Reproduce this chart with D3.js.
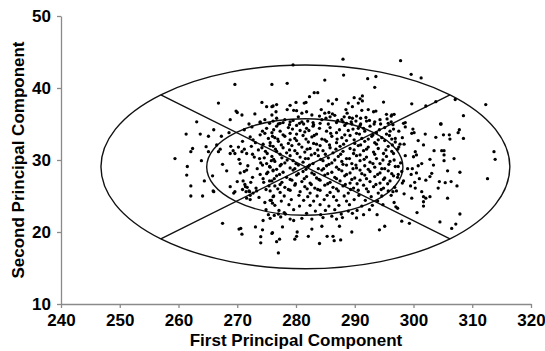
<!DOCTYPE html>
<html>
<head>
<meta charset="utf-8">
<script src="https://cdn.jsdelivr.net/npm/d3@7"></script>
<style>
  body { margin: 0; background: #fff; }
  text { font-family: Arial, "Liberation Sans", sans-serif; }
</style>
</head>
<body>
<div id="chart"></div>
<script>
// axis ticks
const xTicks = [240, 250, 260, 270, 280, 290, 300, 310, 320];
const yTicks = [10, 20, 30, 40, 50];

// ellipses: [centre pc1, centre pc2, half width, half height]
const outerEllipse = [281.6, 29.05, 34.8, 14.15];
const innerEllipse = [281.5, 29.03, 16.7, 6.7];

// principal component scores [pc1, pc2]
const outerScores = [
  [269.6,40.5],[275.9,40.5],[266.8,37.9],[274.2,38.0],[275.0,37.4],[275.9,37.4],[269.8,36.8],[270.0,36.6],
  [270.8,36.25],[268.8,35.6],[273.0,36.4],[263.1,35.3],[275.9,36.25],[273.9,35.3],
  [288.0,44.0],[279.5,43.2],[288.1,41.8],[278.5,40.65],[284.9,41.1],[292.2,41.3],[293.6,41.6],[293.4,40.1],
  [283.1,39.35],[283.7,39.35],[282.3,38.8],[294.9,38.05],[291.3,38.9],[290.9,38.5],[289.9,38.65],[285.5,38.2],
  [286.2,37.8],[286.9,38.4],[281.7,38.0],[281.4,37.9],[280.0,38.0],[279.0,37.6],[279.6,36.9],[278.5,37.0],
  [280.1,36.85],[276.7,37.7],[276.1,37.5],[276.6,36.7],[288.9,37.9],[289.6,37.4],[290.6,37.9],[291.3,38.2],
  [291.2,36.9],[288.5,37.0],[288.7,36.5],[288.2,36.0],[292.3,37.0],[293.2,36.7],[293.6,36.8],
  [284.3,37.0],[284.9,36.5],[285.6,36.6],[286.2,36.4],[285.8,36.0],[286.6,36.2],[285.1,35.8],[284.0,36.1],
  [281.0,36.5],[281.8,36.7],[282.7,36.25],[280.4,36.0],[290.3,36.1],[291.0,35.8],[291.9,35.9],[289.6,35.8],
  [290.2,35.4],[295.4,36.35],[296.3,36.25],[276.7,35.8],[278.1,35.6],[277.3,35.1],[279.0,35.3],
  [282.0,35.4],[282.9,35.2],[281.3,35.0],[287.1,35.5],[288.0,35.3],[289.4,35.3],[289.1,35.9],[291.0,35.0],
  [292.5,35.5],[293.4,35.3],[294.4,35.0],[295.5,35.7],[296.2,35.3],
  [297.8,43.8],[299.6,41.9],[301.3,41.4],[307.1,38.4],[312.3,37.7],[299.7,37.8],[302.1,37.5],[303.8,38.1],
  [296.2,36.1],[296.7,36.35],[298.6,35.2],[304.7,35.0],[308.5,36.15],
  [261.3,33.6],[263.7,33.6],[265.1,33.3],[266.0,34.2],[267.3,33.3],[268.6,33.8],[271.2,34.2],[273.9,35.2],
  [275.0,34.4],[275.5,35.1],[273.9,33.5],[274.7,33.7],[275.3,33.0],[276.0,33.3],[272.2,33.2],[272.7,32.8],
  [262.4,31.6],[262.1,31.15],[264.7,31.85],[265.1,31.15],[266.5,32.1],[267.1,31.5],[266.8,31.15],[268.9,31.9],
  [269.3,31.3],[270.2,31.8],[270.8,31.15],[271.2,31.5],[271.6,30.9],[268.8,30.9],[269.6,30.9],[270.3,30.1],
  [270.5,29.5],[272.4,31.9],[273.6,31.4],[274.4,32.2],[272.6,30.8],[273.8,30.2],[274.2,31.7],[275.1,30.9],
  [275.6,32.0],[274.6,30.3],[275.8,29.9],[275.0,29.5],[274.3,29.3],[275.5,29.1],
  [259.4,30.2],[263.9,29.9],[261.5,29.1],[267.5,29.4],[268.2,28.5],[265.8,27.8],[261.4,27.9],[264.4,27.1],
  [262.1,26.4],[265.9,25.7],[270.0,27.0],[270.5,28.2],[271.2,28.4],[271.6,28.6],[271.0,27.1],[271.3,26.6],
  [271.7,26.2],[270.9,25.9],[272.0,25.7],[271.5,25.6],[272.3,26.9],[273.9,28.0],[274.4,27.4],[275.2,28.3],
  [275.5,27.1],[276.1,28.6],[275.4,26.4],[274.9,25.9],[268.8,26.3],[269.6,25.6],[269.4,25.4],
  [272.5,34.6],[274.3,34.0],[273.1,32.4],[274.8,31.2],[272.9,30.4],[274.0,29.6],[273.4,28.8],[275.0,28.1],
  [272.6,27.6],[274.5,26.9],[273.2,26.1],[271.8,29.2],[270.9,32.6],[272.0,35.0],[274.7,35.6],[271.4,26.3],
  [296.5,34.9],[298.3,35.1],[298.6,34.6],[304.6,35.0],[299.9,34.3],[300.1,33.8],[299.7,33.7],[302.0,33.6],
  [303.8,33.15],[305.1,33.5],[306.1,33.5],[306.2,32.9],[307.8,34.2],[307.6,33.8],[308.5,33.0],[300.8,32.7],
  [301.7,32.1],[297.7,32.2],[298.4,32.2],[303.5,31.3],[304.8,31.3],[305.2,31.3],[305.2,30.7],[305.2,29.9],
  [306.9,30.2],[300.3,31.15],[300.5,30.7],[300.0,30.45],[302.8,30.1],[303.4,29.3],[313.7,31.15],[313.9,30.1],
  [300.8,29.2],[301.4,29.5],[305.8,28.5],[307.9,28.3],[312.6,27.4],[302.8,27.7],[303.1,28.15],[302.1,27.2],
  [304.4,27.0],[305.4,26.85],[306.4,27.0],[307.4,26.4],[304.2,26.1],
  [299.8,28.8],[300.5,28.2],[299.6,28.0],[301.0,27.4],[300.2,26.9],[299.5,26.4],[300.3,26.1],[301.4,25.6],
  [296.9,33.0],[297.5,31.8],[296.7,30.0],[297.4,29.1],[298.0,28.4],[297.3,27.6],[298.1,26.8],[296.8,26.2],
  [297.5,34.0],[298.1,33.1],[297.3,31.5],[298.6,30.6],[297.8,29.6],[299.0,28.8],[297.4,28.0],[298.3,27.1],
  [262.1,25.0],[264.1,25.0],[266.0,25.6],[267.5,21.2],[270.3,20.4],[270.6,20.5],[270.8,19.7],[273.1,20.7],
  [274.0,19.35],[274.0,18.5],[274.3,20.3],[275.9,19.8],[274.4,21.6],[275.6,21.9],[275.3,22.4],[274.9,23.1],
  [274.7,24.1],[276.0,24.0],[275.6,24.4],[276.1,24.9],[272.1,25.6],[272.2,25.1],[272.7,25.4],[273.3,25.7],
  [271.6,24.7],[272.2,24.5],[273.7,24.8],
  [276.0,19.9],[277.7,20.7],[276.7,18.65],[277.2,19.0],[277.0,17.1],[279.8,19.0],[280.1,19.4],[280.2,20.0],
  [282.1,19.4],[282.7,20.4],[284.0,18.4],[284.4,20.8],[285.3,19.4],[286.3,19.4],[286.5,18.8],[287.6,18.9],
  [287.4,20.8],[289.5,20.0],[294.2,20.3],[295.1,20.8],
  [279.0,21.8],[279.6,21.6],[281.0,21.9],[282.7,21.8],[284.6,22.0],[286.1,22.2],[286.9,21.8],[287.9,22.0],
  [290.3,21.95],[291.5,22.4],[276.3,22.3],[277.4,22.1],[278.0,22.7],[277.0,22.5],
  [298.4,25.3],[299.7,24.7],[301.7,24.9],[302.1,24.7],[301.7,24.2],[302.8,24.9],[301.7,23.6],
  [305.8,24.7],[296.7,24.1],[297.0,23.5],[297.3,23.3],[300.6,22.7],[307.9,22.5],[298.0,21.5],[299.3,21.2],
  [304.5,21.4],[306.5,20.5],[307.2,21.1],[296.5,25.6],[297.1,25.7]
];

const coreScores = [
  [276.1,35.4],[277.8,35.2],[279.5,35.5],[281.0,35.3],[284.1,35.1],[284.4,35.6],[286.9,35.2],[287.8,35.6],
  [289.5,35.0],[292.0,35.4],[294.3,35.6],[295.7,35.1],
  [276.7,34.7],[278.7,34.5],[280.1,34.8],[281.8,34.4],[282.9,34.7],[285.8,34.5],[288.3,34.8],[290.6,34.4],
  [292.6,34.7],[295.1,34.5],[296.6,34.3],
  [275.9,33.8],[277.3,34.0],[279.0,33.7],[280.7,34.1],[281.5,33.9],[283.5,33.6],[285.2,34.0],[286.9,33.8],
  [288.9,34.1],[290.3,33.7],[291.7,34.0],[293.7,33.8],[295.4,33.6],
  [276.4,33.1],[278.1,33.3],[279.8,33.0],[281.2,33.4],[282.7,33.2],[284.4,32.9],[286.1,33.3],[287.8,33.1],
  [289.2,33.4],[291.2,33.0],[292.9,33.3],[294.6,33.1],[296.3,32.9],
  [275.6,32.4],[277.0,32.6],[278.7,32.3],[280.1,32.7],[282.1,32.5],[283.5,32.2],[285.2,32.6],[286.9,32.4],
  [288.6,32.7],[290.0,32.3],[291.7,32.6],[293.4,32.4],[295.1,32.7],[296.9,32.5],
  [276.1,31.9],[277.8,31.7],[279.3,32.0],[281.0,31.8],[282.4,31.6],[284.1,32.0],[285.8,31.7],[287.5,31.9],
  [289.2,31.6],[290.6,32.0],[292.3,31.8],[294.0,31.6],[295.7,31.9],
  [276.7,31.2],[278.4,31.0],[279.8,31.3],[281.5,31.1],[283.2,30.9],[284.6,31.3],[286.3,31.0],[288.0,31.2],
  [289.8,30.9],[291.5,31.3],[293.2,31.1],[294.9,30.9],[296.3,31.2],
  [275.9,30.5],[277.6,30.3],[279.0,30.6],[280.7,30.4],[282.1,30.2],[283.8,30.6],[285.5,30.3],[287.2,30.5],
  [288.6,30.2],[290.3,30.6],[292.0,30.4],[293.7,30.2],[295.4,30.5],
  [276.4,29.8],[278.1,29.6],[279.5,29.9],[281.2,29.7],[282.9,29.5],[284.6,29.9],[286.1,29.6],[287.8,29.8],
  [289.5,29.5],[290.9,29.9],[292.6,29.7],[294.3,29.5],[296.0,29.8],
  [275.6,29.0],[277.3,29.2],[279.0,28.9],[280.4,29.3],[282.1,29.1],[283.8,28.8],[285.2,29.2],[286.9,29.0],
  [288.6,29.3],[290.3,28.9],[291.7,29.2],[293.4,29.0],[295.1,28.8],[296.9,29.1],
  [276.1,28.5],[277.8,28.3],[279.5,28.6],[281.2,28.4],[282.7,28.2],[284.4,28.6],[286.1,28.3],[287.8,28.5],
  [289.2,28.2],[290.9,28.6],[292.6,28.4],[294.3,28.2],[295.7,28.5],
  [276.7,27.8],[278.4,27.6],[280.1,27.9],[281.8,27.7],[283.5,27.5],[284.9,27.9],[286.6,27.6],[288.3,27.8],
  [290.0,27.5],[291.7,27.9],[293.4,27.7],[295.1,27.5],[296.6,27.8],
  [275.9,27.1],[277.6,26.9],[279.3,27.2],[281.0,27.0],[282.4,26.8],[284.1,27.2],[285.8,26.9],[287.5,27.1],
  [289.2,26.8],[290.9,27.2],[292.6,27.0],[294.3,26.8],[296.0,27.1],
  [276.4,26.4],[278.1,26.2],[279.8,26.5],[281.5,26.3],[283.2,26.1],[284.9,26.5],[286.3,26.2],[288.0,26.4],
  [289.8,26.1],[291.5,26.5],[293.2,26.3],[294.9,26.1],
  [275.6,25.7],[277.3,25.5],[279.0,25.8],[280.7,25.6],[282.4,25.4],[284.1,25.8],[285.8,25.5],[287.2,25.7],
  [288.9,25.4],[290.6,25.8],[292.3,25.6],[294.0,25.4],[295.7,25.7],
  [277.0,35.0],[278.9,34.9],[280.6,35.1],[283.0,34.9],[285.5,35.0],[288.6,35.1],[290.9,34.8],[293.3,35.0],
  [276.2,34.2],[279.4,34.3],[282.2,34.1],[284.0,34.4],[287.4,34.2],[289.7,34.3],[291.5,34.4],[294.2,34.2],[296.0,34.0],
  [277.8,33.5],[280.1,33.6],[283.1,33.4],[285.9,33.7],[288.3,33.5],[290.8,33.6],[293.1,33.5],[295.9,33.4],
  [276.9,32.9],[279.0,32.8],[281.7,32.9],[284.9,32.8],[287.0,32.9],[289.9,32.8],[292.3,32.9],[294.0,32.8],
  [277.5,32.1],[280.5,32.2],[283.0,32.3],[285.7,32.1],[288.1,32.2],[291.0,32.1],[293.7,32.2],[296.4,32.1],
  [276.5,31.5],[278.9,31.4],[281.9,31.5],[283.7,31.4],[286.8,31.5],[289.9,31.4],[292.0,31.5],[295.3,31.4],
  [277.3,30.8],[280.2,30.9],[282.6,30.7],[285.0,30.8],[287.6,30.8],[290.9,30.7],[293.4,30.8],[296.6,30.9],
  [276.2,30.1],[278.5,30.0],[281.6,30.2],[284.2,30.1],[286.6,30.0],[289.1,30.2],[291.6,30.1],[294.8,30.0],
  [277.5,29.4],[280.0,29.5],[282.3,29.3],[285.6,29.4],[288.0,29.4],[290.2,29.3],[293.1,29.5],[295.8,29.4],
  [276.7,28.7],[279.8,28.8],[281.7,28.7],[284.7,28.8],[287.3,28.7],[289.7,28.8],[292.3,28.7],[294.6,28.8],
  [277.2,28.0],[280.4,28.1],[283.1,28.0],[285.4,28.1],[288.6,28.0],[291.2,28.1],[293.9,28.0],[296.3,28.1],
  [276.3,27.4],[279.0,27.3],[281.4,27.4],[283.9,27.3],[286.9,27.4],[289.5,27.3],[292.0,27.4],[294.9,27.3],
  [277.3,26.6],[279.9,26.7],[282.6,26.6],[285.4,26.7],[288.4,26.6],[290.4,26.7],[293.6,26.6],[295.6,26.7],
  [276.9,26.0],[278.7,25.9],[281.9,26.0],[283.7,25.9],[286.9,26.0],[289.3,25.9],[292.0,26.0],[294.5,25.9],
  [276.2,25.0],[278.0,25.0],[280.5,25.1],[282.0,24.9],[283.6,25.0],[285.3,25.1],[286.4,24.9],[288.2,25.0],
  [290.7,25.1],[292.8,24.9],[294.6,25.0],[296.2,25.1],
  [275.8,24.4],[277.5,24.3],[279.2,24.5],[281.3,24.4],[283.0,24.3],[284.8,24.5],[286.9,24.4],[288.6,24.3],
  [289.9,24.5],[291.8,24.4],[293.9,24.3],
  [276.4,23.7],[278.8,23.8],[280.6,23.6],[282.4,23.7],[284.1,23.8],[285.6,23.6],[287.3,23.7],[289.1,23.8],
  [291.2,23.6],[293.0,23.7],[294.8,23.8],
  [277.1,23.0],[279.6,23.1],[283.3,22.9],[285.0,23.0],[286.6,23.1],[288.9,22.9],[290.4,23.0],[292.5,23.1],
  [278.2,22.5],[281.8,22.6],[284.2,22.4],[287.7,22.5],[289.6,22.6],[293.8,22.4]
];

const width = 545, height = 351;

const x = d3.scaleLinear().domain([240, 320]).range([61, 531]);
const y = d3.scaleLinear().domain([10, 50]).range([304, 16]);

const svg = d3.select("#chart").append("svg")
  .attr("width", width)
  .attr("height", height);

// axes
const xAxis = d3.axisBottom(x).tickValues(xTicks).tickSize(4).tickSizeOuter(0).tickPadding(6);
const yAxis = d3.axisLeft(y).tickValues(yTicks).tickSize(4).tickSizeOuter(0).tickPadding(6);

const gx = svg.append("g").attr("transform", `translate(0,${y(10)})`).call(xAxis);
const gy = svg.append("g").attr("transform", `translate(${x(240)},0)`).call(yAxis);

[gx, gy].forEach(g => {
  g.select(".domain").attr("stroke", "#8a8a8a").attr("stroke-width", 1.3);
  g.selectAll(".tick line").attr("stroke", "#8a8a8a").attr("stroke-width", 1.3);
  g.selectAll(".tick text")
    .attr("fill", "#000")
    .style("font-size", "17px")
    .style("font-weight", "bold")
    .style("font-family", "Arial, 'Liberation Sans', sans-serif");
});

svg.append("text")
  .attr("x", (x(240) + x(320)) / 2)
  .attr("y", 346)
  .attr("text-anchor", "middle")
  .style("font-size", "17px")
  .style("font-weight", "bold")
  .text("First Principal Component");

svg.append("text")
  .attr("transform", `translate(24,${(y(10) + y(50)) / 2}) rotate(-90)`)
  .attr("text-anchor", "middle")
  .style("font-size", "17px")
  .style("font-weight", "bold")
  .text("Second Principal Component");

// ellipses
function drawEllipse(e) {
  svg.append("ellipse")
    .attr("cx", x(e[0]))
    .attr("cy", y(e[1]))
    .attr("rx", x(e[0] + e[2]) - x(e[0]))
    .attr("ry", y(e[1]) - y(e[1] + e[3]))
    .attr("fill", "none")
    .attr("stroke", "#111")
    .attr("stroke-width", 1.4);
}
drawEllipse(outerEllipse);
drawEllipse(innerEllipse);

// diagonals, ending on the outer ellipse at 45 degrees
const c = Math.SQRT1_2;
const o = outerEllipse;
const diagonals = [
  [[o[0] - o[2] * c, o[1] + o[3] * c], [o[0] + o[2] * c, o[1] - o[3] * c]],
  [[o[0] - o[2] * c, o[1] - o[3] * c], [o[0] + o[2] * c, o[1] + o[3] * c]]
];
svg.selectAll("line.diag")
  .data(diagonals)
  .enter().append("line")
  .attr("class", "diag")
  .attr("x1", d => x(d[0][0]))
  .attr("y1", d => y(d[0][1]))
  .attr("x2", d => x(d[1][0]))
  .attr("y2", d => y(d[1][1]))
  .attr("stroke", "#111")
  .attr("stroke-width", 1.4);

// points
svg.append("g")
  .selectAll("circle")
  .data(outerScores.concat(coreScores))
  .enter().append("circle")
  .attr("cx", d => x(d[0]))
  .attr("cy", d => y(d[1]))
  .attr("r", 1.65)
  .attr("fill", "#000");
</script>
</body>
</html>
